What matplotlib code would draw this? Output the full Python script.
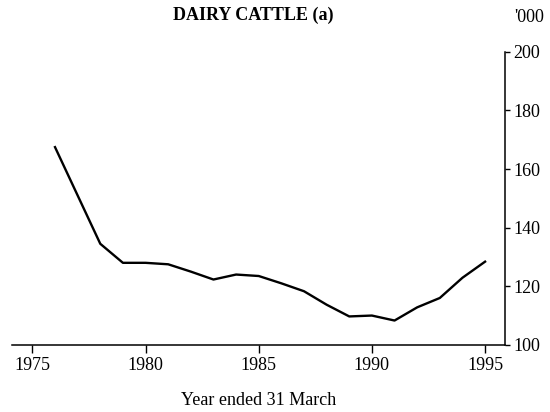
import matplotlib
matplotlib.use("Agg")
import matplotlib.pyplot as plt

# Dairy cattle numbers ('000), year ended 31 March
years = [1976, 1977, 1978, 1979, 1980, 1981, 1982, 1983, 1984, 1985,
         1986, 1987, 1988, 1989, 1990, 1991, 1992, 1993, 1994, 1995]
cattle = [167.5, 151.0, 134.5, 128.0, 128.0, 127.5, 125.0, 122.3, 124.0, 123.5,
          121.0, 118.3, 113.7, 109.7, 110.0, 108.3, 112.8, 116.0, 122.9, 128.4]

x_ticks = [1975, 1980, 1985, 1990, 1995]
y_ticks = [100, 120, 140, 160, 180, 200]

plt.rcParams["font.family"] = ["Liberation Serif", "DejaVu Serif"]

fig = plt.figure(figsize=(5.5, 4.12), dpi=100)
ax = fig.add_axes([0.021, 0.163, 0.898, 0.711])

ax.plot(years, cattle, color="black", linewidth=1.7)

ax.set_xlim(1974.08, 1995.9)
ax.set_ylim(100, 200)
ax.set_xticks(x_ticks)
ax.set_yticks(y_ticks)

ax.spines["left"].set_visible(False)
ax.spines["top"].set_visible(False)
ax.spines["right"].set_linewidth(1.1)
ax.spines["bottom"].set_linewidth(1.1)
ax.yaxis.tick_right()

ax.tick_params(axis="x", direction="out", length=6, width=1.0, pad=3, labelsize=13)
ax.tick_params(axis="y", direction="out", length=3.5, width=1.0, pad=2, labelsize=13)

ax.set_xlabel("Year ended 31 March", fontsize=13, labelpad=13)
fig.text(0.46, 0.963, "DAIRY CATTLE (a)", ha="center", va="center",
         fontsize=13, fontweight="bold")
fig.text(0.99, 0.958, "'000", ha="right", va="center", fontsize=13)

fig.savefig("out.png", dpi=100)
